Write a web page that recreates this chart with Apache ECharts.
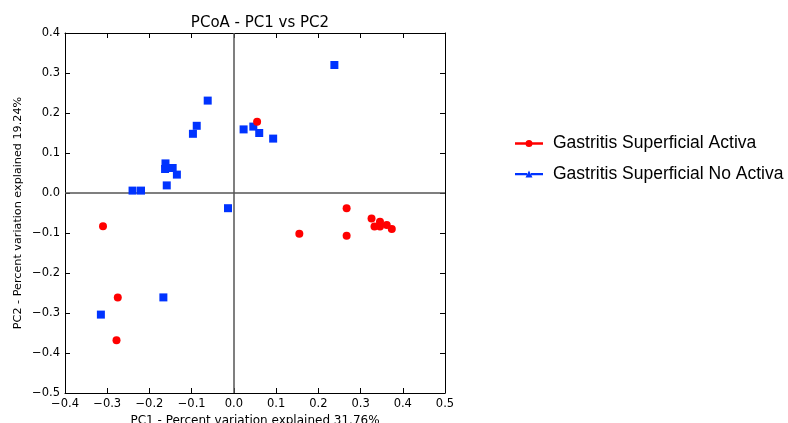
<!DOCTYPE html>
<html>
<head>
<meta charset="utf-8">
<script src="https://cdn.jsdelivr.net/npm/echarts@6/dist/echarts.min.js"></script>
<style>
  html, body { margin: 0; padding: 0; background: #fff; }
  #chart { width: 788px; height: 423px; }
</style>
</head>
<body>
<div id="chart"></div>
<script>
// PCoA coordinates per sample group
const groupNames = ['Gastritis Superficial Activa', 'Gastritis Superficial No Activa'];

const activaPC1 = [0.055, -0.310, 0.267, 0.326, 0.346, 0.333, 0.346, 0.362, 0.374, 0.155, 0.267, -0.275, -0.278];
const activaPC2 = [0.178, -0.083, -0.038, -0.064, -0.072, -0.084, -0.084, -0.080, -0.090, -0.102, -0.107, -0.261, -0.368];

const noActivaPC1 = [0.238, -0.062, -0.088, -0.097, 0.023, 0.046, 0.060, 0.093, -0.162, -0.163, -0.145, -0.135, -0.159, -0.240, -0.220, -0.014, -0.167, -0.315];
const noActivaPC2 = [0.320, 0.231, 0.168, 0.148, 0.159, 0.166, 0.150, 0.136, 0.074, 0.060, 0.0625, 0.046, 0.019, 0.006, 0.006, -0.038, -0.261, -0.304];

const xTicks = { min: -0.4, max: 0.5, step: 0.1 };
const yTicks = { min: -0.5, max: 0.4, step: 0.1 };

const pairs = (xs, ys) => xs.map((x, i) => [x, ys[i]]);

const fmt = v => {
  const r = Math.round(v * 10) / 10;
  if (Math.abs(r) < 1e-9) return '0.0';
  return (r < 0 ? '\u2212' : '') + Math.abs(r).toFixed(1);
};

const axisFont = 'DejaVu Sans';
const RED = '#ff0000';
const BLUE = '#0033ff';

// legend glyphs: short line with a marker in the middle
const circleIcon = 'path://M0,3.8 L11,3.8 L11,6.2 L0,6.2 Z M17,3.8 L28,3.8 L28,6.2 L17,6.2 Z M10.5,5 A3.5,3.5 0 1,1 17.5,5 A3.5,3.5 0 1,1 10.5,5 Z';
const triIcon = 'path://M0,3.8 L12,3.8 L12,6.2 L0,6.2 Z M16,3.8 L28,3.8 L28,6.2 L16,6.2 Z M14,1.5 L17.5,8.5 L10.5,8.5 Z';

const tickInside = { show: true, inside: true, length: 5, lineStyle: { color: '#000', width: 1 } };
const frameLine = { show: true, onZero: false, lineStyle: { color: '#000', width: 1 } };

const chart = echarts.init(document.getElementById('chart'), null, { renderer: 'canvas' });

chart.setOption({
  animation: false,
  backgroundColor: '#fff',
  title: {
    text: 'PCoA - PC1 vs PC2',
    left: 255,
    top: 11,
    textAlign: 'center',
    textStyle: { fontFamily: axisFont, fontWeight: 'normal', fontSize: 15, color: '#000' }
  },
  legend: {
    orient: 'vertical',
    left: 515,
    top: 134.5,
    padding: 0,
    itemGap: 12.6,
    itemWidth: 28,
    itemHeight: 10,
    textStyle: { fontFamily: 'Liberation Sans', fontSize: 17.5, color: '#000', padding: [0, 0, 0, 5] },
    data: [
      { name: groupNames[0], icon: circleIcon, itemStyle: { color: RED } },
      { name: groupNames[1], icon: triIcon, itemStyle: { color: BLUE } }
    ]
  },
  grid: { left: 65, right: 343, top: 33, bottom: 30, containLabel: false, outerBoundsMode: 'none' },
  xAxis: [
    {
      type: 'value', position: 'bottom',
      min: xTicks.min, max: xTicks.max, interval: xTicks.step,
      axisLine: frameLine, axisTick: tickInside, splitLine: { show: false },
      axisLabel: { formatter: fmt, fontFamily: axisFont, fontSize: 11.5, color: '#000', margin: 5 },
      name: 'PC1 - Percent variation explained 31.76%',
      nameLocation: 'middle', nameGap: 16.5,
      nameTextStyle: { fontFamily: axisFont, fontSize: 12, color: '#000' }
    },
    {
      type: 'value', position: 'top',
      min: xTicks.min, max: xTicks.max, interval: xTicks.step,
      axisLine: frameLine, axisTick: tickInside, splitLine: { show: false },
      axisLabel: { show: false }
    }
  ],
  yAxis: [
    {
      type: 'value', position: 'left',
      min: yTicks.min, max: yTicks.max, interval: yTicks.step,
      axisLine: frameLine, axisTick: tickInside, splitLine: { show: false },
      axisLabel: { formatter: fmt, fontFamily: axisFont, fontSize: 11.5, color: '#000', margin: 5 },
      name: 'PC2 - Percent variation explained 19.24%',
      nameLocation: 'middle', nameGap: 41, nameRotate: 90,
      nameTextStyle: { fontFamily: axisFont, fontSize: 11.2, color: '#000' }
    },
    {
      type: 'value', position: 'right',
      min: yTicks.min, max: yTicks.max, interval: yTicks.step,
      axisLine: frameLine, axisTick: tickInside, splitLine: { show: false },
      axisLabel: { show: false }
    }
  ],
  series: [
    {
      name: groupNames[0],
      type: 'scatter',
      xAxisIndex: 0, yAxisIndex: 0,
      symbol: 'circle', symbolSize: 8,
      itemStyle: { color: RED, opacity: 1 },
      data: pairs(activaPC1, activaPC2),
      z: 5,
      markLine: {
        silent: true,
        symbol: 'none',
        label: { show: false },
        lineStyle: { color: '#555', width: 1.5, type: 'solid' },
        data: [{ xAxis: 0 }, { yAxis: 0 }],
        z: 1
      }
    },
    {
      name: groupNames[1],
      type: 'scatter',
      xAxisIndex: 0, yAxisIndex: 0,
      symbol: 'rect', symbolSize: 8,
      itemStyle: { color: BLUE, opacity: 1 },
      data: pairs(noActivaPC1, noActivaPC2),
      z: 4
    }
  ]
});
</script>
</body>
</html>
